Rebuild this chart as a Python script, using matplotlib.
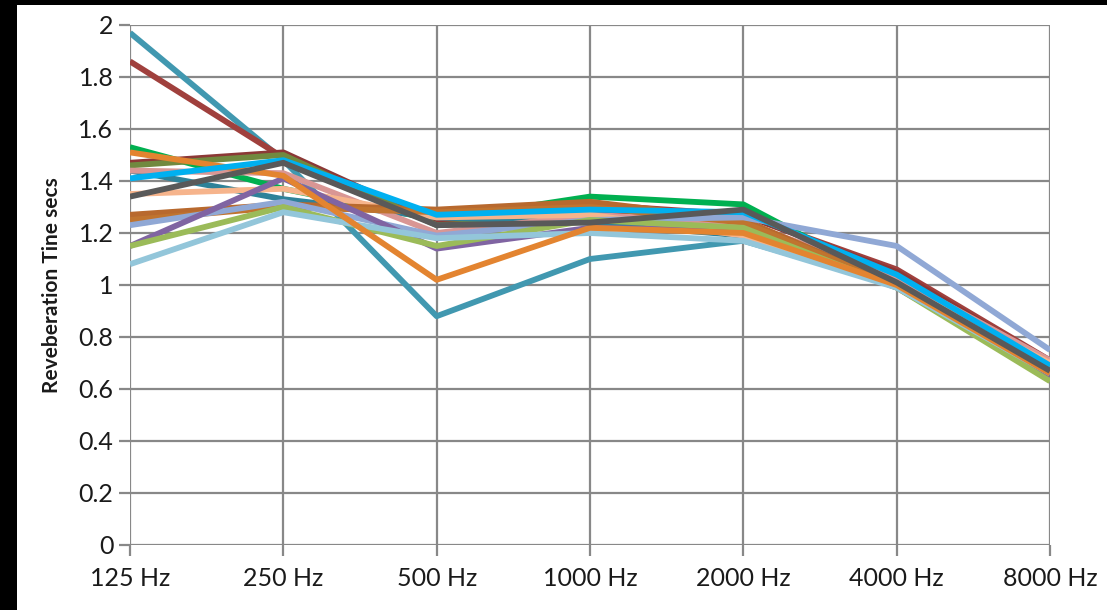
import numpy as np
import matplotlib
matplotlib.use('Agg')
import matplotlib.pyplot as plt
from matplotlib.patches import Rectangle

# octave bands on the x axis
bands = ['125 Hz', '250 Hz', '500 Hz', '1000 Hz', '2000 Hz', '4000 Hz', '8000 Hz']

teal = [1.97, 1.48, 0.88, 1.10, 1.17, 1.00, 0.67]
red = [1.86, 1.49, 1.24, 1.31, 1.27, 1.06, 0.71]
green = [1.53, 1.37, 1.25, 1.34, 1.31, 1.00, 0.66]
orange = [1.51, 1.42, 1.02, 1.22, 1.20, 1.00, 0.66]
maroon = [1.47, 1.51, 1.24, 1.28, 1.27, 1.05, 0.70]
olive = [1.46, 1.50, 1.23, 1.26, 1.23, 1.00, 0.65]
teal_dark = [1.44, 1.33, 1.26, 1.24, 1.19, 1.00, 0.66]
pink = [1.44, 1.43, 1.20, 1.27, 1.24, 1.03, 0.71]
peach = [1.35, 1.37, 1.26, 1.27, 1.19, 1.00, 0.70]
brown = [1.27, 1.31, 1.29, 1.32, 1.25, 1.00, 0.66]
brown2 = [1.25, 1.30, 1.28, 1.30, 1.24, 1.00, 0.66]
lavender = [1.23, 1.32, 1.19, 1.25, 1.26, 1.15, 0.75]
purple = [1.15, 1.41, 1.14, 1.22, 1.21, 0.99, 0.65]
light_green = [1.15, 1.30, 1.15, 1.25, 1.22, 0.99, 0.63]
light_blue = [1.08, 1.28, 1.18, 1.20, 1.17, 0.99, 0.66]
blue = [1.41, 1.48, 1.27, 1.29, 1.28, 1.04, 0.69]
gray = [1.34, 1.47, 1.23, 1.24, 1.29, 1.01, 0.67]

series = [
    (teal, '#4198B0'),
    (red, '#A0403D'),
    (green, '#00B050'),
    (maroon, '#8C3836'),
    (olive, '#71893F'),
    (teal_dark, '#2E8299'),
    (pink, '#D99694'),
    (peach, '#F6B48C'),
    (brown, '#B8692E'),
    (brown2, '#C0742F'),
    (lavender, '#90A8D5'),
    (purple, '#8064A2'),
    (light_green, '#9BBB59'),
    (light_blue, '#93C6DA'),
    (orange, '#E38430'),
    (blue, '#00B0F0'),
    (gray, '#595959'),
]

y_ticks = [0, 0.2, 0.4, 0.6, 0.8, 1, 1.2, 1.4, 1.6, 1.8, 2]
y_labels = ['0', '0.2', '0.4', '0.6', '0.8', '1', '1.2', '1.4', '1.6', '1.8', '2']

plt.rcParams['font.family'] = ['Lato', 'DejaVu Sans']

fig = plt.figure(figsize=(11.07, 6.10), dpi=100)
fig.patch.set_facecolor('black')
# white chart area inside the black frame (top and left edges)
fig.add_artist(Rectangle((17 / 1107, 0), 1 - 17 / 1107, 1 - 5 / 610,
                         transform=fig.transFigure, facecolor='white',
                         edgecolor='none', zorder=-10))

ax = fig.add_axes([130 / 1107, 65 / 610, 920 / 1107, 520 / 610])
ax.set_facecolor('white')

x = np.arange(len(bands))
for vals, col in series:
    ax.plot(x, vals, color=col, lw=4.2, solid_joinstyle='round',
            solid_capstyle='butt', zorder=3)

ax.set_xlim(0, len(bands) - 1)
ax.set_ylim(0, 2)
ax.set_xticks(x)
ax.set_xticklabels(bands)
ax.set_yticks(y_ticks)
ax.set_yticklabels(y_labels)

grid_col = '#888888'
ax.grid(True, color=grid_col, lw=1.6, zorder=1)
for s in ax.spines.values():
    s.set_visible(False)
ax.tick_params(axis='both', colors=grid_col, width=1.6, length=8,
               labelcolor='#1a1a1a', labelsize=18)
ax.tick_params(axis='x', pad=8)
ax.tick_params(axis='y', pad=4)

ax.set_ylabel('Reveberation Tine secs', fontsize=15, fontweight='bold',
              color='#1a1a1a', labelpad=12)

fig.savefig('out.png', dpi=100, facecolor=fig.get_facecolor())
